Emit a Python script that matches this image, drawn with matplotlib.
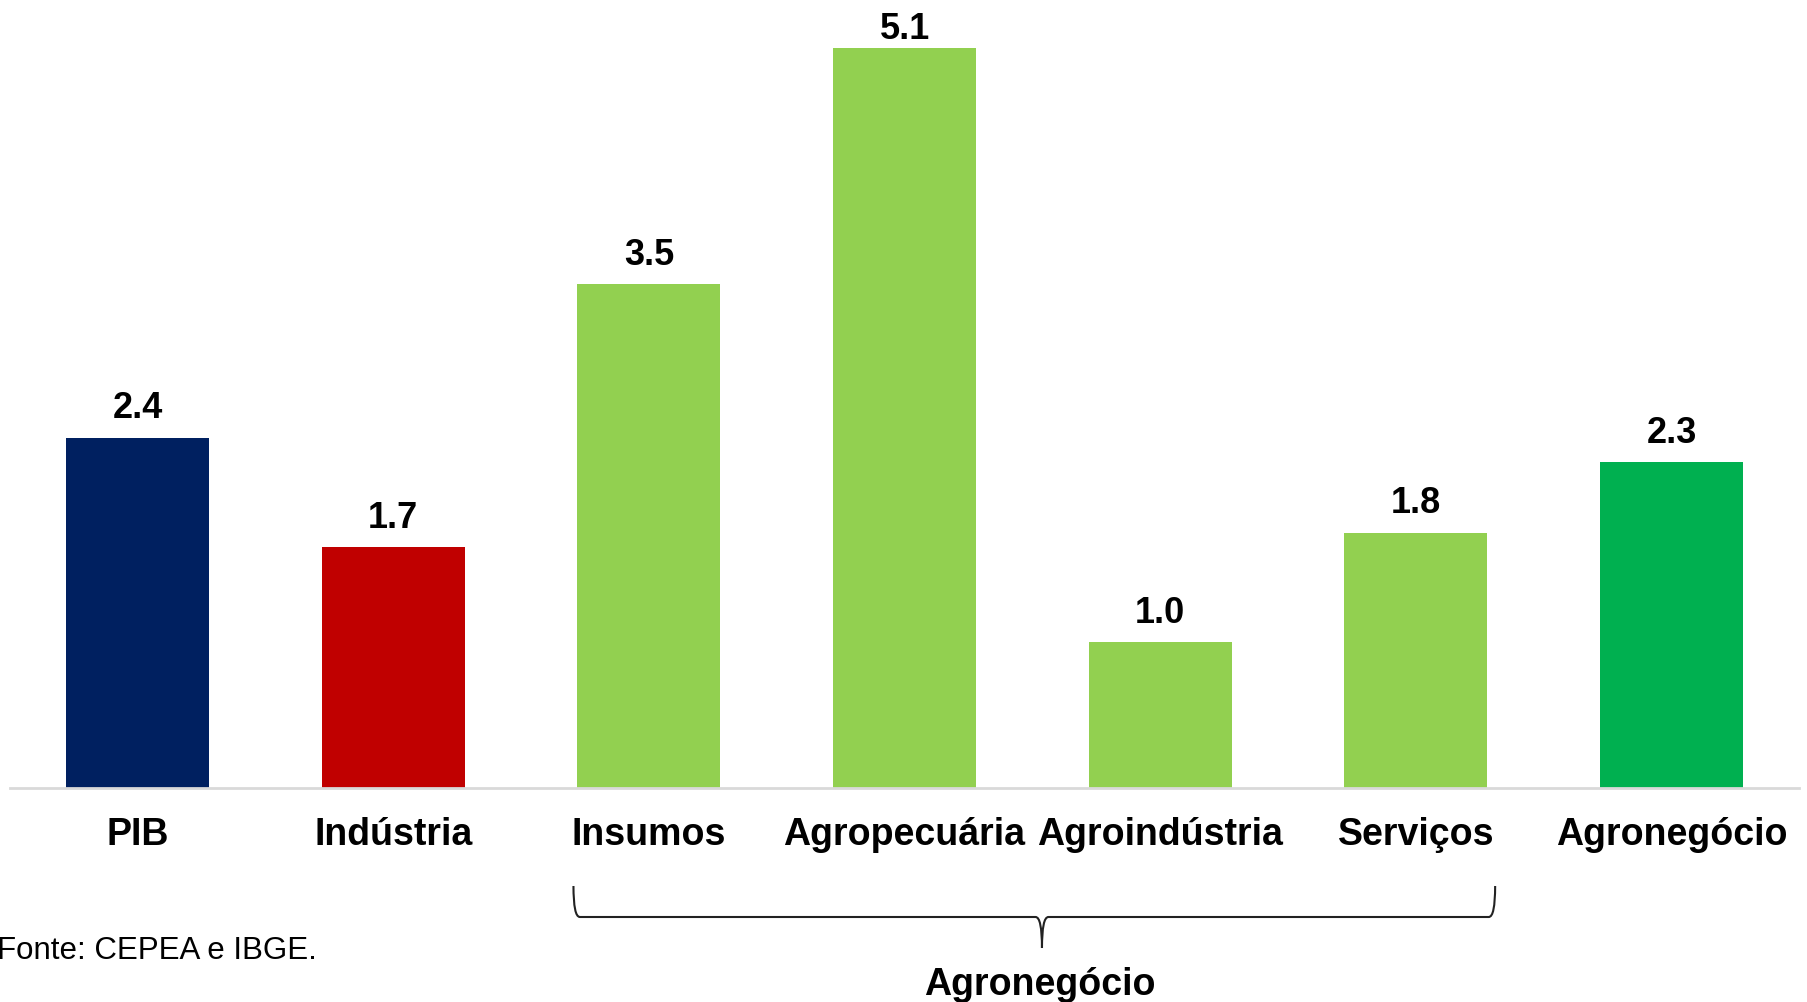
import matplotlib
matplotlib.use("Agg")
from matplotlib import pyplot as plt
from matplotlib.path import Path
from matplotlib.patches import PathPatch
from matplotlib.transforms import blended_transform_factory

# dados
categorias = ["PIB", "Indústria", "Insumos", "Agropecuária", "Agroindústria", "Serviços", "Agronegócio"]
valores = [2.40, 1.65, 3.45, 5.07, 1.00, 1.75, 2.23]
rotulos = ["2.4", "1.7", "3.5", "5.1", "1.0", "1.8", "2.3"]
cores = ["#002060", "#C00000", "#92D050", "#92D050", "#92D050", "#92D050", "#00B050"]
grupo = "Agronegócio"
grupo_ini, grupo_fim = 2, 5
fonte = "Fonte: CEPEA e IBGE."

plt.rcParams['font.family'] = ['Liberation Sans', 'DejaVu Sans']

W, H = 1808, 1002
fig = plt.figure(figsize=(W / 100, H / 100), dpi=100)
ax = fig.add_axes([9.7 / W, (H - 788) / H, 1789.7 / W, 788 / H])

largura = 0.56
x = list(range(len(categorias)))
ax.bar(x, valores, width=largura, color=cores, zorder=2)

vmax = max(valores)
for xi, v, r in zip(x, valores, rotulos):
    # o rótulo da barra mais alta fica mais perto para caber na figura
    off = 6.5 if v == vmax else 14
    ax.annotate(r, (xi, v), xytext=(0, off), textcoords="offset points",
                ha="center", va="baseline", fontsize=26, fontweight="bold")

ax.set_xlim(-0.5, len(categorias) - 0.5)
ax.set_ylim(0, 788 / 146)
ax.set_xticks(x)
ax.set_xticklabels(categorias, fontsize=27, fontweight="bold")
ax.tick_params(axis="x", length=0, pad=21)
ax.set_yticks([])
for s in ["top", "right", "left"]:
    ax.spines[s].set_visible(False)
ax.spines["bottom"].set_color("#d9d9d9")
ax.spines["bottom"].set_linewidth(2)

# chave sob o grupo agronegócio
tr = blended_transform_factory(ax.transData, fig.transFigure)
esq = grupo_ini - largura / 2 - 0.015
dir_ = grupo_fim + largura / 2 + 0.03
meio = (esq + dir_) / 2 + 0.03
y_top = 1 - 886 / H
y_mid = 1 - 917 / H
y_bot = 1 - 948 / H
dx = 0.025
verts = [
    (esq, y_top), (esq, y_mid), (esq + dx, y_mid),
    (meio - dx, y_mid),
    (meio, y_mid), (meio, y_bot),
    (meio, y_mid), (meio + dx, y_mid),
    (dir_ - dx, y_mid),
    (dir_, y_mid), (dir_, y_top),
]
codes = [Path.MOVETO, Path.CURVE3, Path.CURVE3, Path.LINETO,
         Path.CURVE3, Path.CURVE3, Path.CURVE3, Path.CURVE3,
         Path.LINETO, Path.CURVE3, Path.CURVE3]
fig.add_artist(PathPatch(Path(verts, codes), transform=tr, fill=False,
                         edgecolor="#222222", linewidth=1.5))
fig.text(meio - 0.01, 1 - 985 / H, grupo, transform=tr, ha="center", va="center",
         fontsize=27, fontweight="bold")

fig.text(-3 / W, 1 - 959 / H, fonte, ha="left", va="baseline", fontsize=22.5)

fig.savefig("out.png", dpi=100)
